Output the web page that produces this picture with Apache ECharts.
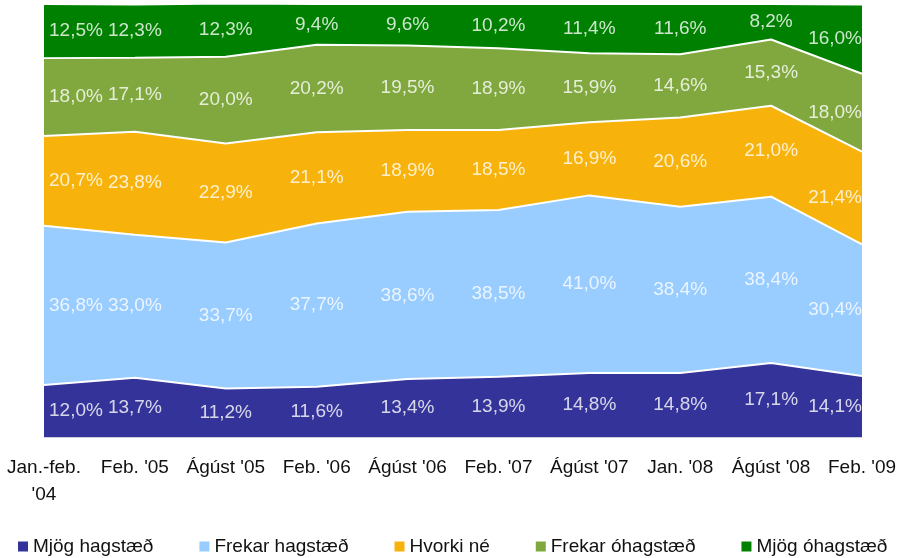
<!DOCTYPE html>
<html>
<head>
    <meta charset="utf-8">
    <title>Mat á aðstæðum</title>
    <script src="https://cdn.jsdelivr.net/npm/echarts@6/dist/echarts.min.js"></script>
    <style>
        html, body { margin: 0; padding: 0; background: #fff; }
        #chart { width: 914px; height: 558px; }
    </style>
</head>
<body>
<div id="chart"></div>
<script>
    // flokkar (x-ás)
    var categories = ["Jan.-feb.\n'04", "Feb. '05", "Ágúst '05", "Feb. '06", "Ágúst '06",
        "Feb. '07", "Ágúst '07", "Jan. '08", "Ágúst '08", "Feb. '09"];
    var seriesNames = ['Mjög hagstæð', 'Frekar hagstæð', 'Hvorki né', 'Frekar óhagstæð', 'Mjög óhagstæð'];
    var mjogHagstaed   = [12.0, 13.7, 11.2, 11.6, 13.4, 13.9, 14.8, 14.8, 17.1, 14.1];
    var frekarHagstaed = [36.8, 33.0, 33.7, 37.7, 38.6, 38.5, 41.0, 38.4, 38.4, 30.4];
    var hvorkiNe       = [20.7, 23.8, 22.9, 21.1, 18.9, 18.5, 16.9, 20.6, 21.0, 21.4];
    var frekarOhag     = [18.0, 17.1, 20.0, 20.2, 19.5, 18.9, 15.9, 14.6, 15.3, 18.0];
    var mjogOhag       = [12.5, 12.3, 12.3, 9.4, 9.6, 10.2, 11.4, 11.6, 8.2, 16.0];
    var colors = ['#333399', '#99ccff', '#f7b30b', '#80a83e', '#008000'];

    var allData = [mjogHagstaed, frekarHagstaed, hvorkiNe, frekarOhag, mjogOhag];
    var font = '"Liberation Sans", Arial, sans-serif';

    var series = [];
    allData.forEach(function (d, k) {
        series.push({
            name: seriesNames[k],
            type: 'line',
            stack: 'total',
            data: d,
            showSymbol: false,
            symbol: 'none',
            lineStyle: { color: '#fff', width: 2 },
            itemStyle: { color: colors[k] },
            areaStyle: { color: colors[k], opacity: 1 },
            z: 2
        });
    });

    // merkingar í miðju hvers lags
    var labelData = [];
    for (var i = 0; i < categories.length; i++) {
        var base = 0;
        for (var k = 0; k < allData.length; k++) {
            var v = allData[k][i];
            var item = { value: [i, base + v / 2, v] };
            if (i === 0) item.label = { align: 'left', offset: [5, 0] };
            if (i === categories.length - 1) item.label = { align: 'right', offset: [0, 0] };
            labelData.push(item);
            base += v;
        }
    }
    series.push({
        type: 'scatter',
        data: labelData,
        symbolSize: 1,
        itemStyle: { color: 'rgba(0,0,0,0)' },
        silent: true,
        z: 5,
        label: {
            show: true,
            position: 'inside',
            color: '#fff',
            fontFamily: font,
            fontSize: 19,
            formatter: function (p) { return p.value[2].toFixed(1).replace('.', ',') + '%'; }
        }
    });

    var myChart = echarts.init(document.getElementById('chart'));
    myChart.setOption({
        animation: false,
        grid: { left: 44, right: 52, top: 4, bottom: 121 },
        legend: {
            data: seriesNames,
            left: 13,
            top: 532,
            icon: 'rect',
            itemWidth: 10,
            itemHeight: 10,
            itemGap: 46,
            textStyle: { fontFamily: font, fontSize: 19, color: '#111' }
        },
        xAxis: {
            type: 'category',
            data: categories,
            boundaryGap: false,
            axisLine: { show: true, lineStyle: { color: '#ccccdd', width: 1 } },
            axisTick: { show: false },
            axisLabel: {
                fontFamily: font, fontSize: 19, color: '#111', margin: 17,
                lineHeight: 27, interval: 0, verticalAlign: 'top'
            }
        },
        yAxis: {
            type: 'value',
            min: 0,
            max: 100,
            show: false,
            splitLine: { show: false }
        },
        series: series
    });
</script>
</body>
</html>
